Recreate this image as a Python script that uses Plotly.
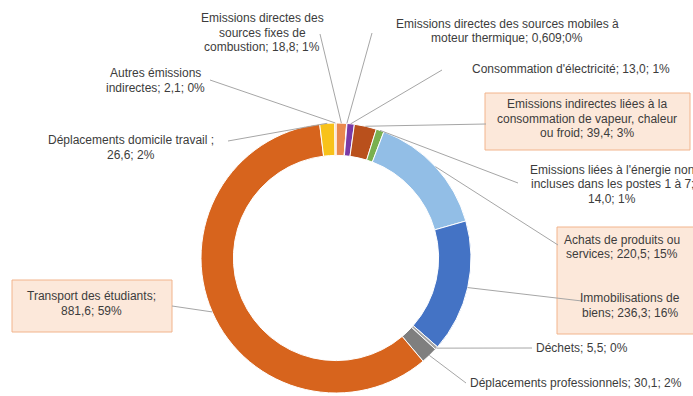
import math
import plotly.graph_objects as go

W, H = 693, 396

# Emission categories, in slice order (clockwise from 12 o'clock)
labels = [
    "Emissions directes des sources fixes de combustion",
    "Emissions directes des sources mobiles à moteur thermique",
    "Consommation d'électricité",
    "Emissions indirectes liées à la consommation de vapeur, chaleur ou froid",
    "Emissions liées à l'énergie non incluses dans les postes 1 à 7",
    "Achats de produits ou services",
    "Immobilisations de biens",
    "Déchets",
    "Déplacements professionnels",
    "Transport des étudiants",
    "Déplacements domicile travail",
    "Autres émissions indirectes",
]
values = [18.8, 0.609, 13.0, 39.4, 14.0, 220.5, 236.3, 5.5, 30.1, 881.6, 26.6, 2.1]
percents = ["1%", "0%", "1%", "3%", "1%", "15%", "16%", "0%", "2%", "59%", "2%", "0%"]
value_text = ["18,8", "0,609", "13,0", "39,4", "14,0", "220,5", "236,3", "5,5", "30,1", "881,6", "26,6", "2,1"]

colors = ["#E9894E", "#D99ACB", "#7A3AA6", "#B9501C", "#79B04F", "#92BEE6",
          "#4473C5", "#A6A6A6", "#7F7F7F", "#D7641D", "#F8C21A", "#F2B48C"]

# Data label layout: text lines, then (text centre x, y of first line,
# leader start x, leader start y) in pixels
label_lines = [
    ["Emissions directes des", "sources fixes de", "combustion; {v}; {p}"],
    ["Emissions directes des sources mobiles à", "moteur thermique; {v};{p}"],
    ["Consommation d'électricité; {v}; {p}"],
    ["Emissions indirectes liées à la", "consommation de vapeur, chaleur", "ou froid; {v}; {p}"],
    ["Emissions liées à l'énergie non", "incluses dans les postes 1 à 7;", "{v}; {p}"],
    ["Achats de produits ou", "services; {v}; {p}"],
    ["Immobilisations de", "biens; {v}; {p}"],
    ["Déchets; {v}; {p}"],
    ["Déplacements professionnels; {v}; {p}"],
    ["Transport des étudiants;", "{v}; {p}"],
    ["Déplacements domicile travail ;", "{v}; {p}"],
    ["Autres émissions", "indirectes; {v}; {p}"],
]
label_pos = [
    (262, 18, 320, 34),
    (507, 24, 372, 33),
    (571, 69, 442, 70),
    (587, 104, 486, 124),
    (612, 170, 518, 183),
    (622, 240, 558, 245),
    (630, 298, 582, 301),
    (582, 348, 532, 348),
    (576, 383, 466, 383),
    (91, 296, 172, 306),
    (131, 140, 228, 141),
    (155, 73, 210, 80),
]
LINE_STEP = 14.5

# Highlight boxes behind some labels (x0, y0, x1, y1 in pixels)
boxes = [(485, 93, 690, 150), (557, 227, 698, 334), (12, 280, 172, 332)]

# Ring geometry in pixels
CX, CY, R = 336, 258, 135
HOLE = 0.76


def px(x):
    return x / W


def py(y):
    return 1 - y / H


fig = go.Figure(go.Pie(
    labels=labels,
    values=values,
    sort=False,
    direction="clockwise",
    rotation=0,
    hole=HOLE,
    marker=dict(colors=colors, line=dict(color="white", width=1)),
    textinfo="none",
    hoverinfo="label+value+percent",
    domain=dict(x=[px(CX - R), px(CX + R)], y=[py(CY + R), py(CY - R)]),
    showlegend=False,
))

shapes = []
for (x0, y0, x1, y1) in boxes:
    shapes.append(dict(type="rect", xref="paper", yref="paper",
                       x0=px(x0), x1=px(x1), y0=py(y1), y1=py(y0),
                       fillcolor="#FCE8DA", line=dict(color="#F2B48C", width=1),
                       layer="below"))

# Leader lines from each label to the outer edge of its slice at mid-angle
total = sum(values)
cum = 0.0
annotations = []
for i, v in enumerate(values):
    mid = (cum + v / 2) / total * 2 * math.pi
    cum += v
    ex = CX + R * math.sin(mid)
    ey = CY - R * math.cos(mid)
    tx, ty, lx, ly = label_pos[i]
    shapes.append(dict(type="line", xref="paper", yref="paper",
                       x0=px(lx), y0=py(ly), x1=px(ex), y1=py(ey),
                       line=dict(color="#A6A6A6", width=1)))
    for k, s in enumerate(label_lines[i]):
        annotations.append(dict(
            x=px(tx), y=py(ty + k * LINE_STEP), xref="paper", yref="paper",
            text=s.format(v=value_text[i], p=percents[i]), showarrow=False,
            xanchor="center", yanchor="middle",
            font=dict(family="Liberation Sans", size=12, color="#3C3C3C")))

fig.update_layout(
    width=W, height=H,
    margin=dict(l=0, r=0, t=0, b=0),
    paper_bgcolor="white",
    plot_bgcolor="white",
    shapes=shapes,
    annotations=annotations,
)

fig.write_html("out.html")
